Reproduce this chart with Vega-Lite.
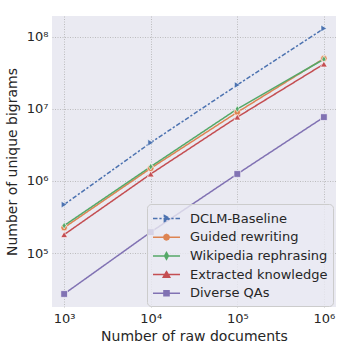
{
  "$schema": "https://vega.github.io/schema/vega-lite/v6.json",
  "width": 284,
  "height": 291,
  "autosize": {"type": "none"},
  "padding": {"left": 52, "top": 16, "right": 16, "bottom": 57},
  "background": "white",
  "config": {
    "font": "DejaVu Sans",
    "view": {"fill": "#EAEAF2", "stroke": null},
    "legend": {
      "orient": "none",
      "legendX": 95,
      "legendY": 188,
      "labelFontSize": 13,
      "labelColor": "#262626",
      "fillColor": "rgba(234,234,242,0.8)",
      "strokeColor": "#cccccc",
      "cornerRadius": 4,
      "padding": 5,
      "symbolSize": 289,
      "symbolOpacity": 1,
      "symbolStrokeWidth": 1.5,
      "rowPadding": 1.7,
      "labelOffset": 14,
      "symbolOffset": 5
    },
    "axis": {
      "grid": true,
      "gridColor": "#b0b0b0",
      "gridDash": [1, 1.5],
      "gridWidth": 0.8,
      "ticks": false,
      "domain": false,
      "labelFontSize": 13,
      "labelColor": "#262626",
      "titleFontSize": 14,
      "titleFontWeight": "normal",
      "titleColor": "#262626",
      "labelExpr": "'10' + ['⁰','¹','²','³','⁴','⁵','⁶','⁷','⁸','⁹'][round(log(datum.value)/LN10)]"
    }
  },
  "data": {
    "values": [
      {"series": "DCLM-Baseline", "docs": 1000, "bigrams": 470000},
      {"series": "DCLM-Baseline", "docs": 10000, "bigrams": 3400000},
      {"series": "DCLM-Baseline", "docs": 100000, "bigrams": 21500000},
      {"series": "DCLM-Baseline", "docs": 1000000, "bigrams": 131000000},
      {"series": "Guided rewriting", "docs": 1000, "bigrams": 225000},
      {"series": "Guided rewriting", "docs": 10000, "bigrams": 1500000},
      {"series": "Guided rewriting", "docs": 100000, "bigrams": 9000000},
      {"series": "Guided rewriting", "docs": 1000000, "bigrams": 50000000},
      {"series": "Wikipedia rephrasing", "docs": 1000, "bigrams": 240000},
      {"series": "Wikipedia rephrasing", "docs": 10000, "bigrams": 1580000},
      {"series": "Wikipedia rephrasing", "docs": 100000, "bigrams": 10000000},
      {"series": "Wikipedia rephrasing", "docs": 1000000, "bigrams": 49000000},
      {"series": "Extracted knowledge", "docs": 1000, "bigrams": 180000},
      {"series": "Extracted knowledge", "docs": 10000, "bigrams": 1250000},
      {"series": "Extracted knowledge", "docs": 100000, "bigrams": 7700000},
      {"series": "Extracted knowledge", "docs": 1000000, "bigrams": 42000000},
      {"series": "Diverse QAs", "docs": 1000, "bigrams": 27000},
      {"series": "Diverse QAs", "docs": 10000, "bigrams": 195000},
      {"series": "Diverse QAs", "docs": 100000, "bigrams": 1250000},
      {"series": "Diverse QAs", "docs": 1000000, "bigrams": 7700000}
    ]
  },
  "encoding": {
    "x": {
      "field": "docs", "type": "quantitative",
      "scale": {"type": "log", "domain": [724, 1380000], "nice": false, "zero": false},
      "axis": {"title": "Number of raw documents", "values": [1000, 10000, 100000, 1000000], "labelPadding": 5, "titlePadding": 4}
    },
    "y": {
      "field": "bigrams", "type": "quantitative",
      "scale": {"type": "log", "domain": [17800, 195000000], "nice": false, "zero": false},
      "axis": {"title": "Number of unique bigrams", "values": [100000, 1000000, 10000000, 100000000], "labelPadding": 4, "titlePadding": 7}
    },
    "color": {
      "field": "series", "type": "nominal",
      "scale": {
        "domain": ["DCLM-Baseline", "Guided rewriting", "Wikipedia rephrasing", "Extracted knowledge", "Diverse QAs"],
        "range": ["#4C72B0", "#DD8452", "#55A868", "#C44E52", "#8172B3"]
      },
      "legend": {"title": null}
    }
  },
  "layer": [
    {
      "mark": {"type": "line", "strokeWidth": 1.5},
      "encoding": {
        "strokeDash": {
          "field": "series", "type": "nominal",
          "scale": {
            "domain": ["DCLM-Baseline", "Guided rewriting", "Wikipedia rephrasing", "Extracted knowledge", "Diverse QAs"],
            "range": [[4.5, 1.9, 2.25, 1.9], [1, 0], [1, 0], [1, 0], [1, 0]]
          },
          "legend": null
        }
      }
    },
    {
      "transform": [{"filter": "datum.series == 'DCLM-Baseline'"}],
      "mark": {"type": "point", "filled": true, "opacity": 1, "stroke": "white", "strokeWidth": 0.6, "size": 45, "shape": "triangle-right"}
    },
    {
      "transform": [{"filter": "datum.series == 'Guided rewriting'"}],
      "mark": {"type": "point", "filled": true, "opacity": 1, "stroke": "white", "strokeWidth": 0.6, "size": 42, "shape": "circle"}
    },
    {
      "transform": [{"filter": "datum.series == 'Wikipedia rephrasing'"}],
      "mark": {"type": "point", "filled": true, "opacity": 1, "stroke": "white", "strokeWidth": 0.6, "size": 45, "shape": "M0,-1L0.6,0L0,1L-0.6,0Z"}
    },
    {
      "transform": [{"filter": "datum.series == 'Extracted knowledge'"}],
      "mark": {"type": "point", "filled": true, "opacity": 1, "stroke": "white", "strokeWidth": 0.6, "size": 45, "shape": "triangle-up"}
    },
    {
      "transform": [{"filter": "datum.series == 'Diverse QAs'"}],
      "mark": {"type": "point", "filled": true, "opacity": 1, "stroke": "white", "strokeWidth": 0.6, "size": 45, "shape": "square"}
    },
    {
      "mark": {"type": "point", "filled": true, "opacity": 0},
      "encoding": {
        "shape": {
          "field": "series", "type": "nominal",
          "scale": {
            "domain": ["DCLM-Baseline", "Guided rewriting", "Wikipedia rephrasing", "Extracted knowledge", "Diverse QAs"],
            "range": [
              "M-1.59,0L-1.06,0M-0.84,0L-0.57,0M-0.35,0L0.35,0M0.57,0L0.84,0M1.06,0L1.59,0M-0.25,-0.35L0.4,0L-0.25,0.35Z",
              "M-1.59,0L1.59,0M0.33,0L0.23,0.23L0,0.33L-0.23,0.23L-0.33,0L-0.23,-0.23L0,-0.33L0.23,-0.23Z",
              "M-1.59,0L1.59,0M0,-0.4L0.22,0L0,0.4L-0.22,0Z",
              "M-1.59,0L1.59,0M0,-0.35L0.38,0.3L-0.38,0.3Z",
              "M-1.59,0L1.59,0M-0.3,-0.3L0.3,-0.3L0.3,0.3L-0.3,0.3Z"
            ]
          },
          "legend": {"title": null}
        },
        "fill": {
          "field": "series", "type": "nominal",
          "scale": {
            "domain": ["DCLM-Baseline", "Guided rewriting", "Wikipedia rephrasing", "Extracted knowledge", "Diverse QAs"],
            "range": ["#4C72B0", "#DD8452", "#55A868", "#C44E52", "#8172B3"]
          },
          "legend": {"title": null}
        },
        "stroke": {
          "field": "series", "type": "nominal",
          "scale": {
            "domain": ["DCLM-Baseline", "Guided rewriting", "Wikipedia rephrasing", "Extracted knowledge", "Diverse QAs"],
            "range": ["#4C72B0", "#DD8452", "#55A868", "#C44E52", "#8172B3"]
          },
          "legend": {"title": null}
        }
      }
    }
  ]
}
